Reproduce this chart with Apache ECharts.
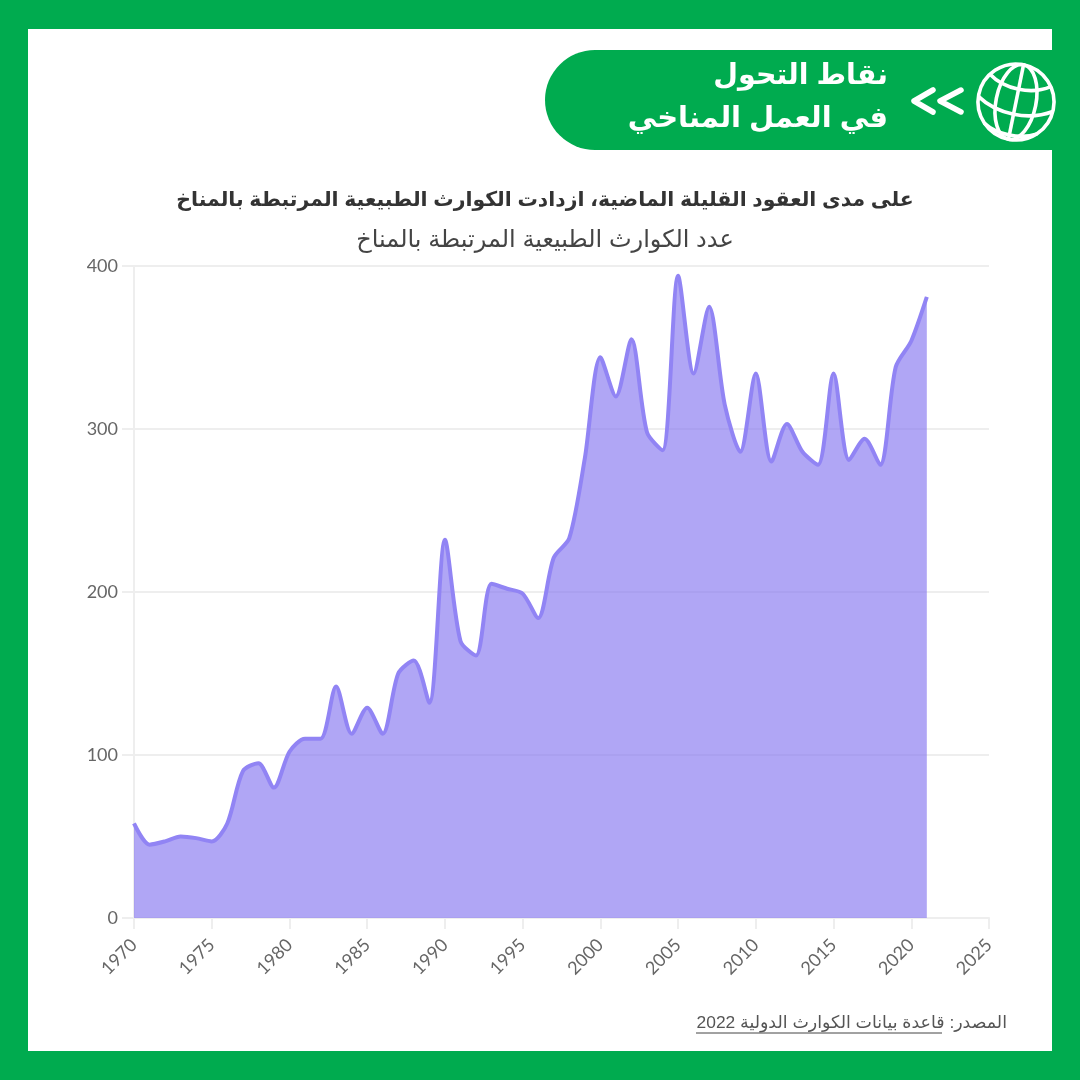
<!DOCTYPE html>
<html><head><meta charset="utf-8">
<style>html,body{margin:0;padding:0;background:#00ab4f}#c{width:1080px;height:1080px}</style>
<script src="https://cdn.jsdelivr.net/npm/echarts@6/dist/echarts.min.js"></script>
</head><body><div id="c" dir="rtl"></div>
<script>
const years = [1970,1971,1972,1973,1974,1975,1976,1977,1978,1979,1980,1981,1982,1983,1984,1985,1986,1987,1988,1989,1990,1991,1992,1993,1994,1995,1996,1997,1998,1999,2000,2001,2002,2003,2004,2005,2006,2007,2008,2009,2010,2011,2012,2013,2014,2015,2016,2017,2018,2019,2020,2021];
const disasters = [58,45,47,50,49,47,58,90,95,80,102,110,110,142,113,129,113,150,158,132,232,170,161,205,202,199,184,221,233,282,344,320,355,298,287,394,334,375,315,286,334,280,303,286,278,334,281,294,278,338,354,381];
const headerLines = ['نقاط التحول','في العمل المناخي'];
const titleText = 'على مدى العقود القليلة الماضية، ازدادت الكوارث الطبيعية المرتبطة بالمناخ';
const subtitleText = 'عدد الكوارث الطبيعية المرتبطة بالمناخ';
const sourceLabel = 'المصدر: ';
const sourceLink = 'قاعدة بيانات الكوارث الدولية 2022';
const arabicFont = '"Liberation Sans","DejaVu Sans",sans-serif';
const green = '#00ab4f';
const globeLine = {stroke:'#fff',lineWidth:3.6,fill:null};
const chev = {stroke:'#fff',lineWidth:5.5,fill:null,lineCap:'round',lineJoin:'round'};
const chart = echarts.init(document.getElementById('c'),null,{renderer:'canvas'});
chart.setOption({
  animation:false,
  backgroundColor:green,
  grid:{left:134,right:91,top:266,bottom:162,containLabel:false},
  xAxis:{type:'value',min:1970,max:2025,interval:5,
    axisLine:{show:true,lineStyle:{color:'#eeeeee',width:2}},
    axisTick:{show:true,length:11,lineStyle:{color:'#eeeeee',width:2}},
    splitLine:{show:false},
    axisLabel:{rotate:45,color:'#666666',fontFamily:'Lato',fontSize:18,margin:24,formatter:v=>String(v),hideOverlap:false}},
  yAxis:{type:'value',min:0,max:400,interval:100,
    axisLine:{show:true,lineStyle:{color:'#eeeeee',width:2}},
    axisTick:{show:true,length:12,lineStyle:{color:'#eeeeee',width:2}},
    splitLine:{show:true,lineStyle:{color:'#eeeeee',width:2}},
    axisLabel:{color:'#666666',fontFamily:'Lato',fontSize:18,margin:16}},
  series:[{type:'line',data:years.map((y,i)=>[y,disasters[i]]),smooth:0.28,
    showSymbol:false,symbol:'none',clip:false,
    lineStyle:{color:'#9184f4',width:4,cap:'butt'},
    areaStyle:{color:'#8677f0',opacity:0.65}}],
  graphic:[
    {type:'rect',z:-10,silent:true,shape:{x:28,y:29,width:1024,height:1022},style:{fill:'#fff'}},
    {type:'rect',z:10,shape:{x:545,y:50,width:520,height:100,r:[50,0,0,50]},style:{fill:green}},
    {type:'text',z:11,style:{x:888,y:76,text:headerLines[0],fill:'#fff',font:'bold 28.5px '+arabicFont,align:'right',verticalAlign:'middle'}},
    {type:'text',z:11,style:{x:888,y:119,text:headerLines[1],fill:'#fff',font:'bold 29px '+arabicFont,align:'right',verticalAlign:'middle'}},
    {type:'polyline',z:11,shape:{points:[[933,90],[914,101],[933,112]]},style:chev},
    {type:'polyline',z:11,shape:{points:[[961,90],[940,101],[961,112]]},style:chev},
    {type:'group',z:11,x:1016,y:102,rotation:-0.2,children:[
      {type:'circle',z:11,shape:{cx:0,cy:0,r:38},style:globeLine},
      {type:'ellipse',z:11,shape:{cx:0,cy:0,rx:20,ry:38},style:globeLine},
      {type:'line',z:11,shape:{x1:0,y1:-38,x2:0,y2:38},style:globeLine},
      {type:'bezierCurve',z:11,shape:{x1:-31,y1:-22,x2:31,y2:-22,cpx1:-14,cpy1:-10,cpx2:14,cpy2:-10},style:globeLine},
      {type:'bezierCurve',z:11,shape:{x1:-38,y1:2,x2:38,y2:2,cpx1:-16,cpy1:16,cpx2:16,cpy2:16},style:globeLine},
      {type:'bezierCurve',z:11,shape:{x1:-27,y1:27,x2:27,y2:27,cpx1:-12,cpy1:36,cpx2:12,cpy2:36},style:globeLine}
    ]},
    {type:'text',style:{x:545,y:200,text:titleText,fill:'#333333',font:'bold 20.4px '+arabicFont,align:'center',verticalAlign:'middle'}},
    {type:'text',style:{x:545,y:240,text:subtitleText,fill:'#444444',font:'24px '+arabicFont,align:'center',verticalAlign:'middle'}},
    {type:'text',style:{x:1007,y:1023,text:sourceLabel+sourceLink,fill:'#555555',font:'17.4px '+arabicFont,align:'right',verticalAlign:'middle'}},
    {type:'line',shape:{x1:696,y1:1033,x2:942,y2:1033},style:{stroke:'#444444',lineWidth:1}}
  ]
});
</script></body></html>
